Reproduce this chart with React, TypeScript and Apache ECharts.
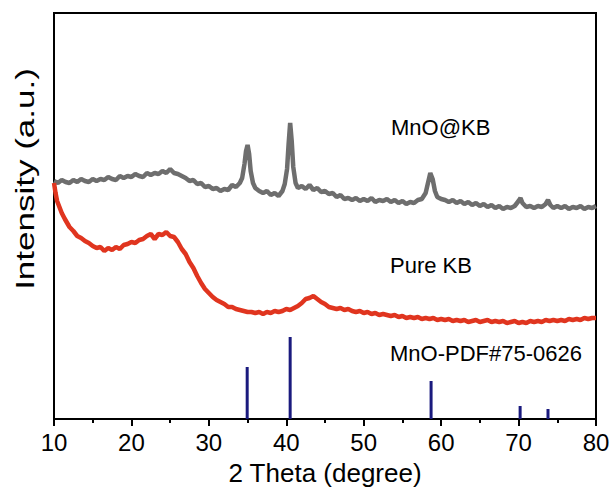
import React, { useEffect, useRef } from "react";
import * as echarts from "echarts";

// MnO@KB pattern: [2θ, intensity (a.u.)]
const mnoKB: number[][] = [
  [10.0, 238], [10.5, 236], [11.0, 239], [11.5, 237], [12.0, 236], [12.5, 239], [13.0, 237], [13.5, 240],
  [14.0, 238], [14.5, 237], [15.0, 240], [15.5, 238], [16.0, 240], [16.5, 239], [17.0, 242], [17.5, 240],
  [18.0, 239], [18.5, 243], [19.0, 241], [19.5, 243], [20.0, 242], [20.5, 245], [21.0, 243], [21.5, 242],
  [22.0, 246], [22.5, 244], [23.0, 246], [23.5, 245], [24.0, 248], [24.5, 246], [25.0, 250], [25.5, 246],
  [26.0, 245], [26.5, 243], [27.0, 241], [27.5, 238], [28.0, 239], [28.5, 235], [29.0, 236], [29.5, 232],
  [30.0, 233], [30.5, 230], [31.0, 231], [31.5, 228], [32.0, 230], [32.5, 229], [33.0, 234], [33.5, 232],
  [34.0, 236], [34.3, 241], [34.6, 255], [34.8, 268], [35.0, 274], [35.2, 265], [35.4, 248], [35.7, 236],
  [36.0, 231], [36.5, 228], [37.0, 226], [37.5, 228], [38.0, 224], [38.5, 226], [39.0, 223], [39.5, 228],
  [39.8, 235], [40.1, 250], [40.3, 275], [40.5, 296], [40.7, 278], [40.9, 252], [41.2, 236], [41.5, 231],
  [42.0, 233], [42.5, 230], [43.0, 234], [43.5, 229], [44.0, 231], [44.5, 227], [45.0, 228], [45.5, 225],
  [46.0, 226], [46.5, 222], [47.0, 224], [47.5, 220], [48.0, 221], [48.5, 219], [49.0, 221], [49.5, 218],
  [50.0, 220], [50.5, 218], [51.0, 221], [51.5, 217], [52.0, 219], [52.5, 218], [53.0, 220], [53.5, 217],
  [54.0, 219], [54.5, 216], [55.0, 218], [55.5, 215], [56.0, 217], [56.5, 216], [57.0, 219], [57.5, 220],
  [58.0, 226], [58.3, 236], [58.6, 246], [58.9, 240], [59.2, 228], [59.5, 222], [60.0, 220], [60.5, 219],
  [61.0, 217], [61.5, 219], [62.0, 216], [62.5, 218], [63.0, 215], [63.5, 217], [64.0, 214], [64.5, 216],
  [65.0, 213], [65.5, 215], [66.0, 212], [66.5, 214], [67.0, 211], [67.5, 213], [68.0, 210], [68.5, 212],
  [69.0, 211], [69.5, 213], [70.0, 218], [70.25, 221], [70.5, 216], [71.0, 212], [71.5, 213], [72.0, 211],
  [72.5, 213], [73.0, 212], [73.5, 215], [73.8, 219], [74.1, 214], [74.5, 211], [75.0, 213], [75.5, 211],
  [76.0, 213], [76.5, 210], [77.0, 212], [77.5, 211], [78.0, 213], [78.5, 210], [79.0, 212], [79.5, 211],
  [80.0, 213],
];

// Pure KB pattern
const pureKB: number[][] = [
  [10.0, 236], [10.2, 226], [10.4, 218], [10.7, 212], [11.0, 206], [11.4, 200], [11.7, 196], [12.0, 192],
  [12.5, 188], [13.0, 183], [13.5, 181], [14.0, 178], [14.5, 176], [15.0, 173], [15.5, 171], [16.0, 172],
  [16.5, 168], [17.0, 171], [17.5, 169], [18.0, 172], [18.5, 170], [19.0, 174], [19.5, 175], [20.0, 177],
  [20.5, 176], [21.0, 179], [21.5, 180], [22.0, 183], [22.5, 185], [23.0, 180], [23.5, 185], [24.0, 184],
  [24.5, 187], [25.0, 183], [25.5, 182], [26.0, 177], [26.5, 170], [27.0, 165], [27.5, 157], [28.0, 151],
  [28.5, 143], [29.0, 136], [29.5, 130], [30.0, 126], [30.5, 122], [31.0, 119], [31.5, 117], [32.0, 115],
  [32.5, 112], [33.0, 112], [33.5, 110], [34.0, 109], [34.5, 108], [35.0, 107], [35.5, 107], [36.0, 106],
  [36.5, 107], [37.0, 105], [37.5, 107], [38.0, 106], [38.5, 108], [39.0, 107], [39.5, 108], [40.0, 110],
  [40.5, 109], [41.0, 111], [41.5, 113], [42.0, 116], [42.5, 120], [43.0, 121], [43.5, 123], [44.0, 120],
  [44.5, 117], [45.0, 115], [45.5, 112], [46.0, 111], [46.5, 110], [47.0, 111], [47.5, 109], [48.0, 110],
  [48.5, 108], [49.0, 107], [49.5, 108], [50.0, 106], [50.5, 107], [51.0, 105], [51.5, 106], [52.0, 104],
  [52.5, 105], [53.0, 104], [53.5, 103], [54.0, 104], [54.5, 102], [55.0, 103], [55.5, 101], [56.0, 102],
  [56.5, 101], [57.0, 102], [57.5, 100], [58.0, 101], [58.5, 100], [59.0, 101], [59.5, 99], [60.0, 100],
  [60.5, 99], [61.0, 100], [61.5, 98], [62.0, 99], [62.5, 98], [63.0, 99], [63.5, 97], [64.0, 98],
  [64.5, 99], [65.0, 97], [65.5, 98], [66.0, 99], [66.5, 97], [67.0, 98], [67.5, 97], [68.0, 98],
  [68.5, 96], [69.0, 97], [69.5, 98], [70.0, 96], [70.5, 97], [71.0, 96], [71.5, 98], [72.0, 97],
  [72.5, 98], [73.0, 97], [73.5, 99], [74.0, 98], [74.5, 99], [75.0, 98], [75.5, 99], [76.0, 98],
  [76.5, 100], [77.0, 99], [77.5, 100], [78.0, 99], [78.5, 101], [79.0, 100], [79.5, 101], [80.0, 101],
];

// MnO reference pattern PDF#75-0626
const pdfPositions = [34.95, 40.5, 58.7, 70.2, 73.8];
const pdfHeights = [52, 82, 38, 13, 10];

const labelMnOKB = "MnO@KB";
const labelPureKB = "Pure KB";
const labelPDF = "MnO-PDF#75-0626";
const xTitle = "2 Theta (degree)";
const yTitle = "Intensity (a.u.)";

const FONT = "'Liberation Sans', Arial, Helvetica, sans-serif";

export default function App() {
  const ref = useRef<HTMLDivElement>(null);
  useEffect(() => {
    document.body.style.margin = "0";
    if (!ref.current) return;
    const chart = echarts.init(ref.current, undefined, { renderer: "svg" });
    chart.setOption({
      animation: false,
      backgroundColor: "#ffffff",
      grid: {
        left: 54,
        right: 20,
        top: 13,
        bottom: 80,
        show: true,
        borderColor: "#000",
        borderWidth: 2,
      },
      xAxis: {
        type: "value",
        min: 10,
        max: 80,
        interval: 10,
        name: xTitle,
        nameLocation: "middle",
        nameGap: 41,
        nameTextStyle: { fontSize: 26, color: "#000", fontFamily: FONT },
        axisLine: { show: true, lineStyle: { color: "#000", width: 2 } },
        axisTick: { show: true, inside: false, length: 7, lineStyle: { color: "#000", width: 2 } },
        minorTick: { show: true, splitNumber: 2, length: 4, lineStyle: { color: "#000", width: 2 } },
        axisLabel: { fontSize: 24, color: "#000", fontFamily: FONT, margin: 11 },
        splitLine: { show: false },
      },
      yAxis: {
        type: "value",
        min: 0,
        max: 406,
        axisLine: { show: true, lineStyle: { color: "#000", width: 2 } },
        axisTick: { show: false },
        axisLabel: { show: false },
        splitLine: { show: false },
      },
      graphic: [
        {
          type: "text",
          x: 25,
          y: 179,
          rotation: Math.PI / 2,
          scaleX: 1.4,
          style: {
            text: yTitle,
            fontSize: 25,
            fontFamily: FONT,
            fill: "#000",
            textAlign: "center",
            textVerticalAlign: "middle",
          },
        },
        {
          type: "text",
          x: 391,
          y: 127,
          style: { text: labelMnOKB, fontSize: 22, fontFamily: FONT, fill: "#000", textVerticalAlign: "middle" },
        },
        {
          type: "text",
          x: 390,
          y: 265,
          style: { text: labelPureKB, fontSize: 22, fontFamily: FONT, fill: "#000", textVerticalAlign: "middle" },
        },
        {
          type: "text",
          x: 390,
          y: 353,
          style: { text: labelPDF, fontSize: 22, fontFamily: FONT, fill: "#000", textVerticalAlign: "middle" },
        },
      ],
      series: [
        {
          type: "line",
          name: labelMnOKB,
          data: mnoKB,
          showSymbol: false,
          smooth: false,
          lineStyle: { color: "#6e6e6e", width: 4.5 },
        },
        {
          type: "line",
          name: labelPureKB,
          data: pureKB,
          showSymbol: false,
          smooth: false,
          lineStyle: { color: "#e0351f", width: 4.5 },
        },
        {
          type: "bar",
          name: labelPDF,
          data: pdfPositions.map((p, i) => [p, pdfHeights[i]]),
          barWidth: 3,
          itemStyle: { color: "#1a1a7e" },
        },
      ],
    });
    return () => chart.dispose();
  }, []);
  return <div ref={ref} style={{ width: 616, height: 499 }} />;
}
